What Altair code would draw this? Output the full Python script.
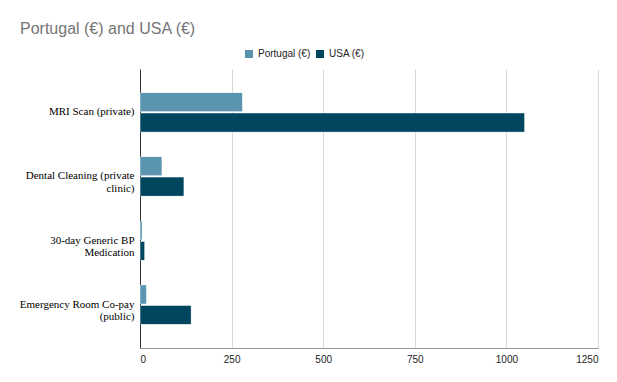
import textwrap
import altair as alt
import pandas as pd

categories = [
    "MRI Scan (private)",
    "Dental Cleaning (private clinic)",
    "30-day Generic BP Medication",
    "Emergency Room Co-pay (public)",
]
portugal = [280, 60, 6, 18]
usa = [1050, 120, 13, 140]
series = ["Portugal (€)", "USA (€)"]
x_ticks = [0, 250, 500, 750, 1000, 1250]

rows = []
for c, p, u in zip(categories, portugal, usa):
    rows.append({"cat": c, "series": series[0], "value": p})
    rows.append({"cat": c, "series": series[1], "value": u})
df = pd.DataFrame(rows)

# multi-line y labels
expr = "datum.label"
for c in reversed(categories):
    lines = textwrap.wrap(c, 24)
    arr = "[" + ",".join("'" + l.replace("'", "\\'") + "'" for l in lines) + "]"
    expr = f"datum.label == '{c}' ? {arr} : ({expr})"

chart = (
    alt.Chart(df)
    .mark_bar(cornerRadius=1, stroke="white", strokeWidth=0.5, strokeOpacity=0.6)
    .encode(
        y=alt.Y(
            "cat:N",
            sort=categories,
            title=None,
            scale=alt.Scale(paddingInner=0.38, paddingOuter=0.365),
            axis=alt.Axis(
                labelExpr=expr,
                labelFont="Liberation Serif",
                labelFontSize=11,
                labelColor="#000000",
                labelPadding=6,
                labelLimit=300,
                labelLineHeight=12.5,
                ticks=False,
                domainColor="#333333",
                domainWidth=1,
                grid=False,
            ),
        ),
        yOffset=alt.YOffset("series:N", sort=series, scale=alt.Scale(paddingInner=0.06)),
        x=alt.X(
            "value:Q",
            title=None,
            scale=alt.Scale(domain=[0, 1250], nice=False),
            axis=alt.Axis(
                values=x_ticks,
                format="d",
                labelFont="Liberation Sans",
                labelFontSize=10,
                labelColor="#222222",
                labelPadding=6,
                ticks=False,
                domainColor="#999999",
                gridColor="#d9d9d9",
                gridWidth=1,
            ),
        ),
        color=alt.Color(
            "series:N",
            sort=series,
            scale=alt.Scale(domain=series, range=["#5b94b1", "#01465f"]),
            legend=alt.Legend(
                title=None,
                orient="none",
                direction="horizontal",
                legendX=104,
                legendY=-20,
                symbolType="square",
                symbolSize=64,
                symbolStrokeWidth=0,
                labelFont="Liberation Sans",
                labelFontSize=10,
                labelColor="#222222",
                columnPadding=4,
            ),
        ),
    )
    .properties(
        width=458,
        height=279,
        autosize=alt.AutoSizeParams(type="none"),
        padding={"left": 132, "top": 61, "right": 11, "bottom": 26},
        title=alt.TitleParams(
            "Portugal (€) and USA (€)",
            anchor="start",
            frame="group",
            font="Liberation Sans",
            fontSize=16,
            fontWeight="normal",
            color="#757575",
            dx=-120,
            offset=12,
        ),
    )
    .configure_view(stroke=None)
)

chart.save("out.html", embed_options={"renderer": "svg", "actions": False})
